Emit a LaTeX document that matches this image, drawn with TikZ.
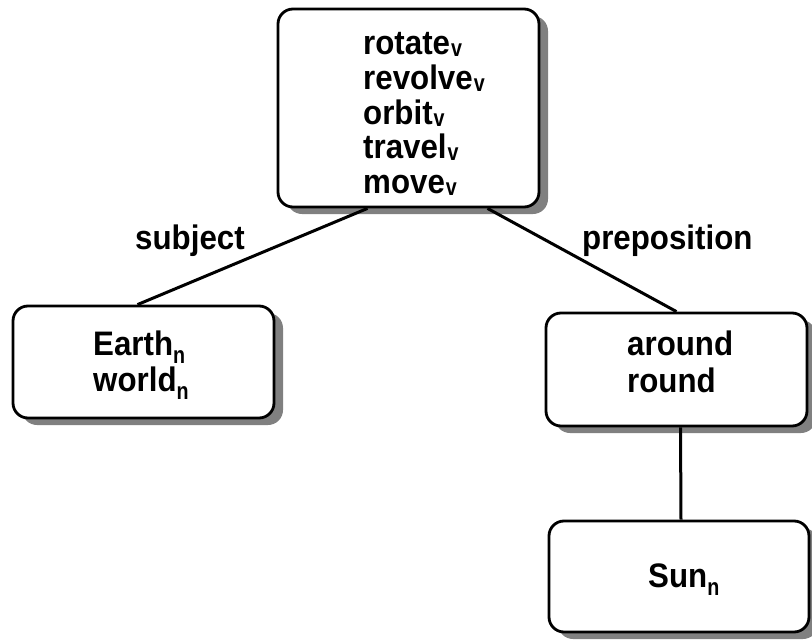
\documentclass[tikz,border=0pt]{standalone}
\usepackage{fontspec}
\setmainfont[FakeStretch=0.92]{Liberation Sans}
\newfontfamily\subfont[FakeStretch=0.82]{Liberation Sans}
\usetikzlibrary{shadows}
\newcommand\subv[1]{\kern1pt\raisebox{-2pt}{\subfont\fontsize{24}{24}\selectfont\bfseries #1}}
\newcommand\subn[1]{\raisebox{-8pt}{\subfont\fontsize{24}{24}\selectfont\bfseries #1}}
\begin{document}
\begin{tikzpicture}[x=1pt,y=-1pt,
  wbox/.style={draw, line width=2.8pt, rounded corners=15pt, fill=white,
    drop shadow={shadow xshift=9pt,shadow yshift=-7pt,fill=black!50,opacity=1},
    inner sep=0pt},
  word/.style={anchor=base west, inner sep=0pt, font=\fontsize{34}{36}\selectfont\bfseries},
  link/.style={line width=3pt}]
\useasboundingbox (0,0) rectangle (812,640);
\node[wbox, minimum width=261pt, minimum height=198pt] (top) at (408.5,108) {};
\node[wbox, minimum width=261pt, minimum height=112pt] (earth) at (143.5,362) {};
\node[wbox, minimum width=261pt, minimum height=113pt] (around) at (676.5,369.5) {};
\node[wbox, minimum width=260pt, minimum height=111pt] (sun) at (679,576.5) {};

\node[word] (w1) at (363,54) {rotate\subv{v}};
\node[word] (w2) at (363,89) {revolve\subv{v}};
\node[word] (w3) at (363,124) {orbit\subv{v}};
\node[word] (w4) at (363,158) {travel\subv{v}};
\node[word] (w5) at (363,193) {move\subv{v}};

\node[word] (e1) at (93,355) {Earth\subn{n}};
\node[word] (e2) at (93,391) {world\subn{n}};

\node[word] (a1) at (627,355) {around};
\node[word] (a2) at (627,392) {round};

\node[word] (s1) at (648,587) {Sun\subn{n}};

\node[word] (l1) at (135,249) {subject};
\node[word] (l2) at (582,249) {preposition};

\draw[link] ([xshift=-41pt]top.south) -- ([xshift=-6pt]earth.north);
\draw[link] ([xshift=79pt]top.south) -- (around.north);
\draw[link] ([xshift=4pt]around.south) -- ([xshift=2pt]sun.north);
\end{tikzpicture}
\end{document}
